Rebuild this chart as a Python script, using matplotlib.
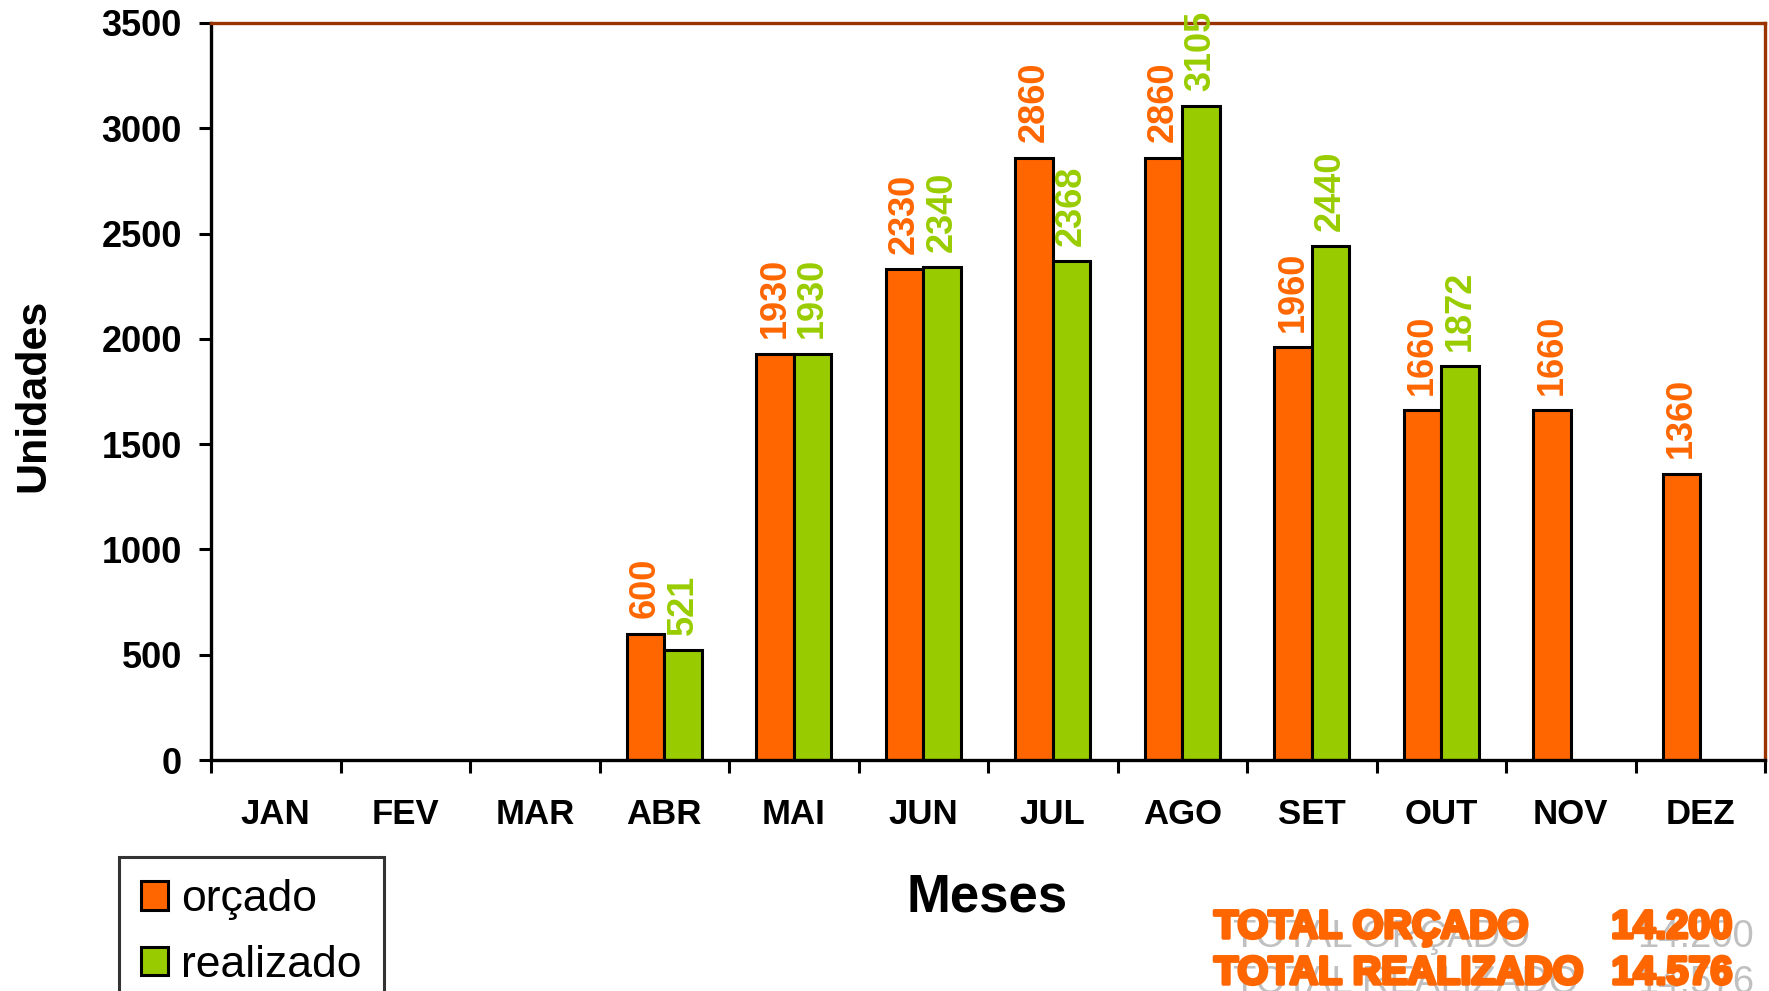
import matplotlib
matplotlib.use("Agg")
import matplotlib.pyplot as plt
import matplotlib.patheffects as pe
import numpy as np

plt.rcParams['font.family'] = ['Liberation Sans', 'DejaVu Sans']

# Data
meses = ["JAN", "FEV", "MAR", "ABR", "MAI", "JUN", "JUL", "AGO", "SET", "OUT", "NOV", "DEZ"]
orcado = [np.nan, np.nan, np.nan, 600, 1930, 2330, 2860, 2860, 1960, 1660, 1660, 1360]
realizado = [np.nan, np.nan, np.nan, 521, 1930, 2340, 2368, 3105, 2440, 1872, np.nan, np.nan]
total_labels = ["TOTAL ORÇADO", "TOTAL REALIZADO"]
total_values = ["14.200", "14.576"]

cor_orc = "#FF6600"
cor_real = "#99CC00"
cor_borda = "#993300"

W, H = 1769, 991
fig = plt.figure(figsize=(W / 100, H / 100), dpi=100)
ax = fig.add_axes([211 / W, 1 - 760 / H, 1554 / W, 737 / H])

x = np.arange(len(meses))
w = 0.29

bars_o = ax.bar(x - w / 2, orcado, w, color=cor_orc, edgecolor="black", linewidth=2.2, label="orçado")
bars_r = ax.bar(x + w / 2, realizado, w, color=cor_real, edgecolor="black", linewidth=2.2, label="realizado")

# Value labels above bars
for xi, v in zip(x, orcado):
    if not np.isnan(v):
        ax.annotate(f"{int(v)}", (xi - w / 2, v), xytext=(0, 11), textcoords="offset points",
                    rotation=90, ha="center", va="bottom", color=cor_orc,
                    fontsize=26, fontweight="bold", annotation_clip=False)
for xi, v in zip(x, realizado):
    if not np.isnan(v):
        ax.annotate(f"{int(v)}", (xi + w / 2, v), xytext=(0, 11), textcoords="offset points",
                    rotation=90, ha="center", va="bottom", color=cor_real,
                    fontsize=26, fontweight="bold", annotation_clip=False)

# Axes limits and ticks
ax.set_xlim(-0.5, len(meses) - 0.5)
ax.set_ylim(0, 3500)
ax.set_yticks(np.arange(0, 3501, 500))
ax.set_xticks(np.arange(-0.5, len(meses), 1.0))
ax.set_xticklabels([])
ax.set_xticks(x, minor=True)
ax.set_xticklabels(meses, minor=True)
ax.tick_params(axis="x", which="major", direction="out", length=9, width=2.2, color="black")
ax.tick_params(axis="x", which="minor", length=0, pad=27, labelsize=25)
ax.tick_params(axis="y", direction="out", length=9, width=2.2, pad=12, labelsize=26)
for lab in ax.get_xticklabels(minor=True) + ax.get_yticklabels():
    lab.set_fontweight("bold")

# Spines
for s in ["left", "bottom"]:
    ax.spines[s].set_color("black")
    ax.spines[s].set_linewidth(2.4)
for s in ["top", "right"]:
    ax.spines[s].set_color(cor_borda)
    ax.spines[s].set_linewidth(2.4)

# Axis titles
fig.text(33 / W, 1 - 395 / H, "Unidades", fontsize=31, fontweight="bold",
         rotation=90, ha="center", va="center")
fig.text(987 / W, 1 - 897 / H, "Meses", fontsize=38, fontweight="bold",
         ha="center", va="center")

# Legend
leg = fig.legend(handles=[bars_o, bars_r], loc="upper left",
                 bbox_to_anchor=(119 / W, 1 - 857 / H), bbox_transform=fig.transFigure,
                 fontsize=32, frameon=True, fancybox=False, edgecolor="black",
                 handlelength=0.6, handleheight=0.6, handletextpad=0.3,
                 labelspacing=0.55, borderpad=0.5, borderaxespad=0)
leg.get_frame().set_linewidth(2.2)

# Totals with grey shadow
eff = [pe.withStroke(linewidth=2.5, foreground=cor_orc, joinstyle="round", capstyle="round")]
for i, (lab, val) in enumerate(zip(total_labels, total_values)):
    yy = 1 - (927 + i * 46) / H
    dy = 10 / H
    fig.text(1233 / W, yy - dy, lab, fontsize=27.5, color="#C0C0C0", va="center", ha="left")
    fig.text(1754 / W, yy - dy, val, fontsize=27.5, color="#C0C0C0", va="center", ha="right")
    fig.text(1214 / W, yy, lab, fontsize=28.5, fontweight="bold", color=cor_orc,
             va="center", ha="left", path_effects=eff)
    fig.text(1733 / W, yy, val, fontsize=28.5, fontweight="bold", color=cor_orc,
             va="center", ha="right", path_effects=eff)

fig.savefig("out.png", dpi=100)
